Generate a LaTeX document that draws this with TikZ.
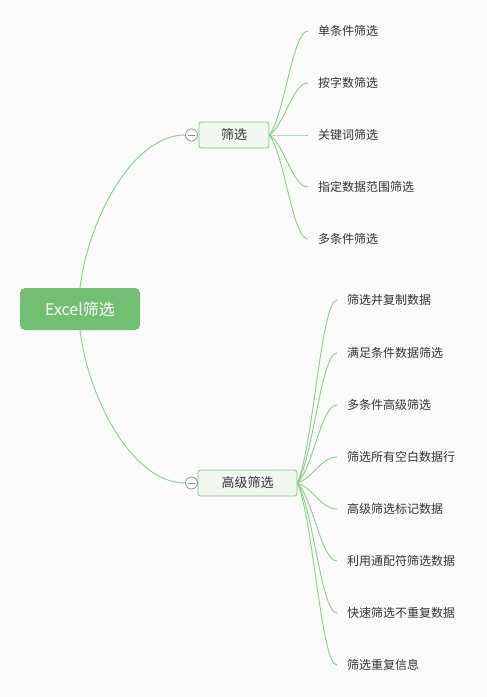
\documentclass[tikz,border=0pt]{standalone}
\usepackage{fontspec}
\setmainfont{Noto Sans CJK SC}
\usetikzlibrary{calc}
\definecolor{lg}{HTML}{8CCB8B}
\definecolor{rootg}{HTML}{72BF74}
\definecolor{topicfill}{HTML}{EFF7EE}
\definecolor{topicdraw}{HTML}{7DC47E}
\definecolor{bgc}{HTML}{FAFAFA}
\definecolor{txt}{HTML}{333333}
\definecolor{cgray}{HTML}{8A8A8A}
\tikzset{
  rootnode/.style={rectangle, rounded corners=5pt, fill=rootg, text=white, minimum width=120pt, minimum height=42pt, inner sep=0pt, font=\fontsize{16pt}{18pt}\selectfont},
  topic/.style={rectangle, rounded corners=2.5pt, fill=topicfill, draw=topicdraw, line width=0.8pt, text=txt, minimum height=26pt, inner sep=0pt, font=\fontsize{13pt}{15pt}\selectfont},
  leaf/.style={anchor=west, inner xsep=10pt, inner ysep=2pt, text=txt, font=\fontsize{12pt}{14pt}\selectfont},
  collapse/.style={circle, draw=cgray, fill=white, line width=0.7pt, minimum size=12pt, inner sep=0pt},
  conn/.style={draw=lg, line width=0.9pt},
}
\begin{document}
\begin{tikzpicture}[x=1pt,y=-1pt]
\fill[bgc] (0,0) rectangle (487,697);
\useasboundingbox (0,0) rectangle (487,697);
\node[rootnode] (r) at (80,309) {Excel筛选};
\node[topic, minimum width=70pt] (a) at (234,135) {筛选};
\node[topic, minimum width=99pt] (b) at (247.5,483) {高级筛选};
\node[collapse] (ca) at (191.5,135) {};
\node[collapse] (cb) at (191.5,483) {};
\draw[cgray, line width=0.7pt] ([xshift=-3.5pt]ca.center) -- ([xshift=3.5pt]ca.center);
\draw[cgray, line width=0.7pt] ([xshift=-3.5pt]cb.center) -- ([xshift=3.5pt]cb.center);
\draw[conn] let \p1=(r.north), \p2=(ca.west) in (\p1) .. controls ({\x1+0.08*(\x2-\x1)},{\y1+0.45*(\y2-\y1)}) and ({\x1+0.5*(\x2-\x1)},\y2) .. (\p2);
\draw[conn] let \p1=(r.south), \p2=(cb.west) in (\p1) .. controls ({\x1+0.08*(\x2-\x1)},{\y1+0.45*(\y2-\y1)}) and ({\x1+0.5*(\x2-\x1)},\y2) .. (\p2);
\foreach \i/\y/\t in {1/31/单条件筛选, 2/83/按字数筛选, 3/135/关键词筛选, 4/187/指定数据范围筛选, 5/239/多条件筛选}
  \node[leaf] (a\i) at (308,\y) {\t};
\foreach \i/\y/\t in {1/300/筛选并复制数据, 2/353/满足条件数据筛选, 3/405/多条件高级筛选, 4/457/筛选所有空白数据行, 5/509/高级筛选标记数据, 6/561/利用通配符筛选数据, 7/613/快速筛选不重复数据, 8/665/筛选重复信息}
  \node[leaf] (b\i) at (337,\y) {\t};
\foreach \i in {1,...,5}
  \draw[conn] let \p1=(a.east), \p2=(a\i.west) in (\p1) .. controls ({\x1+0.4*(\x2-\x1)},{\y1+0.2*(\y2-\y1)}) and ({\x1+0.6*(\x2-\x1)},\y2) .. (\p2);
\foreach \i in {1,...,8}
  \draw[conn] let \p1=(b.east), \p2=(b\i.west) in (\p1) .. controls ({\x1+0.4*(\x2-\x1)},{\y1+0.2*(\y2-\y1)}) and ({\x1+0.6*(\x2-\x1)},\y2) .. (\p2);
\end{tikzpicture}
\end{document}
